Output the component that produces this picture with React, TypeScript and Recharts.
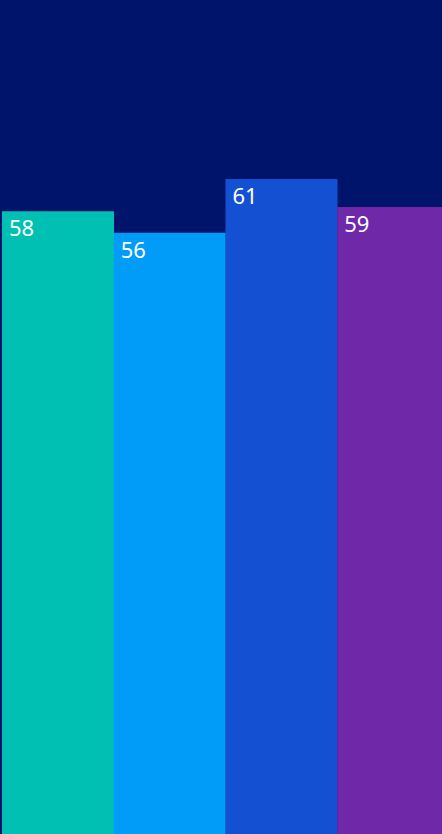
import React from "react";
import { BarChart, Bar, XAxis, YAxis, Cell, LabelList } from "recharts";

const categories = ["A", "B", "C", "D"];
const values = [58, 56, 61, 58.4];
const labels = ["58", "56", "61", "59"];
const colors = ["#00BFB3", "#009CF8", "#1450D2", "#6E28A8"];

const data = categories.map((c, i) => ({ name: c, value: values[i], label: labels[i] }));

const renderLabel = (props: any) => {
  const { x, y, index } = props;
  return (
    <text x={Number(x) + 7} y={Number(y) + 25} fill="#FFFFFF" fontSize={22} fontFamily="'Noto Sans', sans-serif">
      {labels[index]}
    </text>
  );
};

export default function App() {
  return (
    <div style={{ position: "fixed", left: 0, top: 0, width: 442, height: 834, overflow: "hidden", background: "#00146B" }}>
      <BarChart width={449} height={834} data={data} margin={{ top: 0, right: 0, bottom: 0, left: 2 }} barCategoryGap={0}>
        <XAxis dataKey="name" hide />
        <YAxis hide domain={[0, 77.67]} />
        <Bar dataKey="value" isAnimationActive={false}>
          {data.map((d, i) => (
            <Cell key={d.name} fill={colors[i]} />
          ))}
          <LabelList dataKey="label" content={renderLabel} />
        </Bar>
      </BarChart>
    </div>
  );
}
